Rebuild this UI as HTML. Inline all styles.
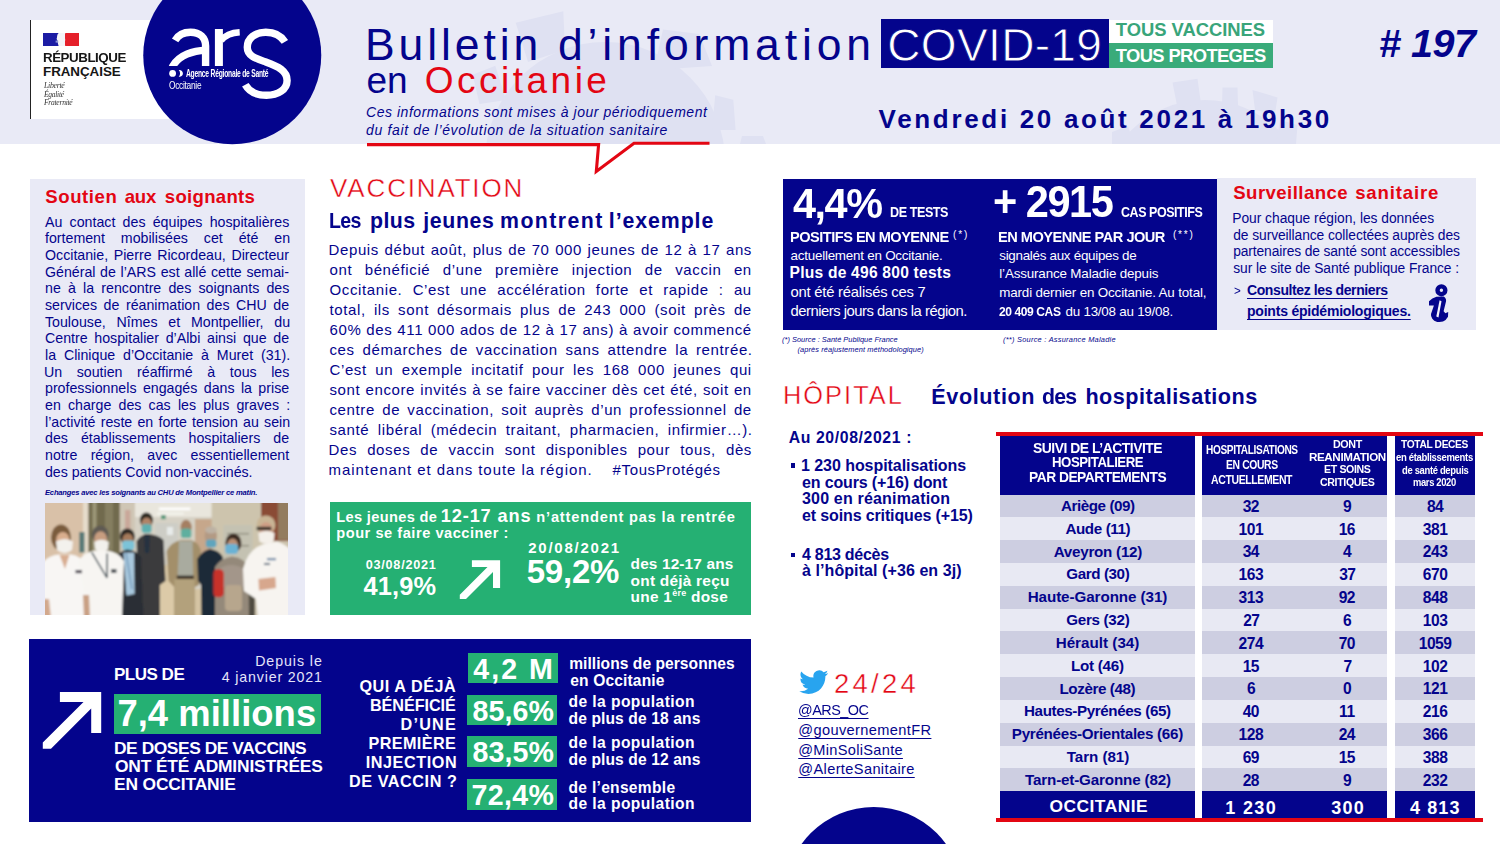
<!DOCTYPE html>
<html lang="fr"><head><meta charset="utf-8"><title>Bulletin d'information COVID-19 en Occitanie</title>
<style>
html,body{margin:0;padding:0}
body{width:1500px;height:844px;position:relative;overflow:hidden;background:#fff;font-family:"Liberation Sans",sans-serif;color:#04048c}
#s div,#s svg{position:absolute}
.t{position:absolute;line-height:1;white-space:pre;transform-origin:0 0}
</style></head><body>
<div id="s">
<div style="left:0.00px;top:0.00px;width:1500.00px;height:144.00px;background:#e9eaf6;"></div>
<svg style="left:0;top:0" width="1500" height="144" viewBox="0 0 1500 144"><g fill="#dfe1f2">
<circle cx="605" cy="162" r="120"/>
<path d="M515.7 22.7 L563.3 11.3 L565 50 L528 62 Z"/>
<path d="M663 29.5 L699.3 34 L712 66 L654 70 Z"/>
<path d="M472.7 74.8 L495.3 65.7 L506 100 L479.5 104 Z"/>
<path d="M715.2 95.2 L733.3 99.7 L735.6 130 L712 130 Z"/>
<path d="M742 136 L763 136 L766 144 L740 144 Z"/>
<circle cx="1205" cy="205" r="105"/>
<path d="M1172.5 82.5 L1197.5 78.7 L1201 104 L1177.5 108 Z"/>
<path d="M1222.5 87.5 L1237.5 87.5 L1238 106 L1222 106 Z"/>
<path d="M1252.5 90 L1277.5 97.5 L1275 114 L1255 110 Z"/>
<path d="M1280 120 L1297.5 125 L1296 144 L1276 144 Z"/>
<path d="M1112 132 L1128 126 L1134 144 L1112 144 Z"/>
</g></svg>
<div style="left:30.00px;top:19.90px;width:210.00px;height:99.40px;background:#fff;"></div>
<div style="left:30.00px;top:19.90px;width:1.00px;height:99.40px;background:#222;"></div>
<div style="left:43.00px;top:33.00px;width:15.60px;height:13.00px;background:#1c1ca4;"></div>
<div style="left:58.60px;top:33.00px;width:6.80px;height:13.00px;background:#f4f4f8;"></div>
<div style="left:65.40px;top:33.00px;width:13.40px;height:13.00px;background:#e5202a;"></div>
<svg style="left:55px;top:33px" width="12" height="13" viewBox="55 33 12 13"><path d="M58.6 33 C56.5 35 57.5 37 56.6 39 C58 40.5 57.5 43 58.6 46 L65.4 46 C63.5 43 66.5 40 64.5 37.5 C64.8 35.5 65 34 65.4 33 Z" fill="#f4f4f8"/><rect x="55.6" y="40.6" width="2.6" height="2" fill="#8f96d8"/></svg>
<svg style="left:140px;top:0" width="190" height="150" viewBox="140 0 190 150">
<defs><clipPath id="ca"><rect x="160" y="20" width="90" height="45.9"/></clipPath></defs>
<circle cx="232.25" cy="55.3" r="89" fill="#04048c"/>
<g fill="none" stroke="#fff" stroke-width="7.4" stroke-linecap="butt">
<g clip-path="url(#ca)">
<path d="M175.1 40.3 C179 33.8 185 32.2 190.5 32.2 C200 32.2 205.6 37.5 205.6 46 L205.6 70"/>
<path d="M206 50.2 C193 50.6 179 55 173 65.8 L171 70"/>
<path d="M218.9 29 L218.9 70" stroke-width="8"/>
<path d="M221 40.5 C225 35.5 232 32.6 239.7 32.2" stroke-width="6.6"/>
</g>
<path d="M284.9 41.9 C281 35.5 274 32.2 265.8 32.2 C255 32.2 247.3 38.5 247.3 47.2 C247.3 56 256 58.5 265.8 62 C278 66.3 287.1 71 287.1 80.4 C287.1 89.5 278 95.2 266.5 95.2 C256.5 95.2 249 91.5 245.3 84.8"/>
</g>
<circle cx="172.6" cy="73.4" r="3.4" fill="#fff"/><path d="M178.7 70.1 A3.4 3.4 0 1 1 178.7 76.7 A4.6 4.6 0 0 0 178.7 70.1Z" fill="#fff"/>
</svg>
<div style="left:881.20px;top:19.00px;width:227.80px;height:48.55px;background:#04048c;"></div>
<div style="left:1109.00px;top:19.50px;width:163.90px;height:23.50px;background:#fff;"></div>
<div style="left:1109.00px;top:42.90px;width:163.90px;height:24.70px;background:#3aab7a;"></div>
<div style="left:30.00px;top:179.00px;width:275.00px;height:436.20px;background:#e9eaf6;"></div>
<div style="left:330.00px;top:502.00px;width:421.00px;height:112.50px;background:#25b073;"></div>
<svg style="left:455px;top:555px" width="50" height="50" viewBox="455 555 50 50"><path d="M471.9 560.2 H500.1 V588 H493 V572 L466 599 H459.8 V594.8 L487.5 567.1 H471.9 Z" fill="#fff"/></svg>
<div style="left:29.25px;top:639.25px;width:721.75px;height:182.50px;background:#04048c;"></div>
<svg style="left:40px;top:688px" width="66" height="66" viewBox="40 688 66 66"><path d="M59.9 691.9 H101.2 V733 H91.2 V708.6 L51 748.8 H42.8 V742.6 L83.5 701.9 H59.9 Z" fill="#fff"/></svg>
<div style="left:114.25px;top:694.25px;width:206.50px;height:39.50px;background:#25b073;"></div>
<div style="left:467.80px;top:653.30px;width:89.80px;height:29.40px;background:#25b073;"></div>
<div style="left:466.90px;top:695.20px;width:90.00px;height:30.30px;background:#25b073;"></div>
<div style="left:466.90px;top:736.20px;width:90.00px;height:30.50px;background:#25b073;"></div>
<div style="left:466.90px;top:779.40px;width:90.00px;height:30.50px;background:#25b073;"></div>
<div style="left:783.00px;top:179.25px;width:433.75px;height:151.00px;background:#04048c;"></div>
<div style="left:1216.75px;top:178.25px;width:259.00px;height:152.00px;background:#e9eaf6;"></div>
<svg style="left:1424px;top:280px" width="30" height="46" viewBox="1424 280 30 46">
<circle cx="1441.4" cy="290.3" r="3.9" fill="none" stroke="#04048c" stroke-width="4.4"/>
<path d="M1429 301.3 Q1432 298 1436.5 296.8 L1443.7 296.5 Q1446.6 298.5 1446 301.5 L1443.6 311.3 L1445.4 313.3 L1448.2 312 L1448 316.7 Q1446 320.3 1443 321.6 Q1440 322.4 1437.2 321.9 Q1433.8 321 1432.3 318.7 Q1430.6 316.5 1431 314.1 L1433.9 305.6 L1429 305.6 Z" fill="#04048c"/>
<path d="M1439.6 300.2 L1441.5 301.2 L1438.5 317.6 L1436.3 316.6 Z" fill="#f2f2fb"/>
</svg>
<div style="left:790.50px;top:463.00px;width:4.50px;height:4.50px;background:#04048c;"></div>
<div style="left:790.50px;top:552.50px;width:4.50px;height:4.50px;background:#04048c;"></div>
<svg style="left:798.5px;top:669.6px" width="29.6" height="24.2" viewBox="0 2 24 20"><path fill="#28a4ef" d="M23.953 4.57a10 10 0 01-2.825.775 4.958 4.958 0 002.163-2.723c-.951.555-2.005.959-3.127 1.184a4.92 4.92 0 00-8.384 4.482C7.69 8.095 4.067 6.13 1.64 3.162a4.822 4.822 0 00-.666 2.475c0 1.71.87 3.213 2.188 4.096a4.904 4.904 0 01-2.228-.616v.06a4.923 4.923 0 003.946 4.827 4.996 4.996 0 01-2.212.085 4.936 4.936 0 004.604 3.417 9.867 9.867 0 01-6.102 2.105c-.39 0-.779-.023-1.17-.067a13.995 13.995 0 007.557 2.209c9.053 0 13.998-7.496 13.998-13.985 0-.21 0-.42-.015-.63A9.935 9.935 0 0024 4.59z"/></svg>
<svg style="left:780px;top:800px" width="190" height="44" viewBox="780 800 190 44"><circle cx="873.75" cy="896" r="89" fill="#04048c"/></svg>
<div style="left:996.25px;top:431.75px;width:486.25px;height:4.00px;background:#e30613;"></div>
<div style="left:996.25px;top:818.00px;width:486.25px;height:3.75px;background:#e30613;"></div>
<div style="left:1000.00px;top:435.75px;width:194.50px;height:58.75px;background:#04048c;"></div>
<div style="left:1000.00px;top:791.25px;width:194.50px;height:26.75px;background:#04048c;"></div>
<div style="left:1202.00px;top:435.75px;width:184.75px;height:58.75px;background:#04048c;"></div>
<div style="left:1202.00px;top:791.25px;width:184.75px;height:26.75px;background:#04048c;"></div>
<div style="left:1395.00px;top:435.75px;width:80.00px;height:58.75px;background:#04048c;"></div>
<div style="left:1395.00px;top:791.25px;width:80.00px;height:26.75px;background:#04048c;"></div>
<div style="left:1000.00px;top:494.50px;width:194.50px;height:22.88px;background:#cdcee1;"></div>
<div style="left:1202.00px;top:494.50px;width:184.75px;height:22.88px;background:#cdcee1;"></div>
<div style="left:1395.00px;top:494.50px;width:80.00px;height:22.88px;background:#cdcee1;"></div>
<div style="left:1000.00px;top:517.33px;width:194.50px;height:22.88px;background:#e8e9f3;"></div>
<div style="left:1202.00px;top:517.33px;width:184.75px;height:22.88px;background:#e8e9f3;"></div>
<div style="left:1395.00px;top:517.33px;width:80.00px;height:22.88px;background:#e8e9f3;"></div>
<div style="left:1000.00px;top:540.15px;width:194.50px;height:22.88px;background:#cdcee1;"></div>
<div style="left:1202.00px;top:540.15px;width:184.75px;height:22.88px;background:#cdcee1;"></div>
<div style="left:1395.00px;top:540.15px;width:80.00px;height:22.88px;background:#cdcee1;"></div>
<div style="left:1000.00px;top:562.98px;width:194.50px;height:22.88px;background:#e8e9f3;"></div>
<div style="left:1202.00px;top:562.98px;width:184.75px;height:22.88px;background:#e8e9f3;"></div>
<div style="left:1395.00px;top:562.98px;width:80.00px;height:22.88px;background:#e8e9f3;"></div>
<div style="left:1000.00px;top:585.81px;width:194.50px;height:22.88px;background:#cdcee1;"></div>
<div style="left:1202.00px;top:585.81px;width:184.75px;height:22.88px;background:#cdcee1;"></div>
<div style="left:1395.00px;top:585.81px;width:80.00px;height:22.88px;background:#cdcee1;"></div>
<div style="left:1000.00px;top:608.63px;width:194.50px;height:22.88px;background:#e8e9f3;"></div>
<div style="left:1202.00px;top:608.63px;width:184.75px;height:22.88px;background:#e8e9f3;"></div>
<div style="left:1395.00px;top:608.63px;width:80.00px;height:22.88px;background:#e8e9f3;"></div>
<div style="left:1000.00px;top:631.46px;width:194.50px;height:22.88px;background:#cdcee1;"></div>
<div style="left:1202.00px;top:631.46px;width:184.75px;height:22.88px;background:#cdcee1;"></div>
<div style="left:1395.00px;top:631.46px;width:80.00px;height:22.88px;background:#cdcee1;"></div>
<div style="left:1000.00px;top:654.29px;width:194.50px;height:22.88px;background:#e8e9f3;"></div>
<div style="left:1202.00px;top:654.29px;width:184.75px;height:22.88px;background:#e8e9f3;"></div>
<div style="left:1395.00px;top:654.29px;width:80.00px;height:22.88px;background:#e8e9f3;"></div>
<div style="left:1000.00px;top:677.12px;width:194.50px;height:22.88px;background:#cdcee1;"></div>
<div style="left:1202.00px;top:677.12px;width:184.75px;height:22.88px;background:#cdcee1;"></div>
<div style="left:1395.00px;top:677.12px;width:80.00px;height:22.88px;background:#cdcee1;"></div>
<div style="left:1000.00px;top:699.94px;width:194.50px;height:22.88px;background:#e8e9f3;"></div>
<div style="left:1202.00px;top:699.94px;width:184.75px;height:22.88px;background:#e8e9f3;"></div>
<div style="left:1395.00px;top:699.94px;width:80.00px;height:22.88px;background:#e8e9f3;"></div>
<div style="left:1000.00px;top:722.77px;width:194.50px;height:22.88px;background:#cdcee1;"></div>
<div style="left:1202.00px;top:722.77px;width:184.75px;height:22.88px;background:#cdcee1;"></div>
<div style="left:1395.00px;top:722.77px;width:80.00px;height:22.88px;background:#cdcee1;"></div>
<div style="left:1000.00px;top:745.60px;width:194.50px;height:22.88px;background:#e8e9f3;"></div>
<div style="left:1202.00px;top:745.60px;width:184.75px;height:22.88px;background:#e8e9f3;"></div>
<div style="left:1395.00px;top:745.60px;width:80.00px;height:22.88px;background:#e8e9f3;"></div>
<div style="left:1000.00px;top:768.42px;width:194.50px;height:22.88px;background:#cdcee1;"></div>
<div style="left:1202.00px;top:768.42px;width:184.75px;height:22.88px;background:#cdcee1;"></div>
<div style="left:1395.00px;top:768.42px;width:80.00px;height:22.88px;background:#cdcee1;"></div>
<svg style="left:45px;top:503px" width="243" height="112" viewBox="0 0 243 112">
<defs><filter id="bl" x="-5%" y="-5%" width="110%" height="110%"><feGaussianBlur stdDeviation="0.85"/></filter>
<clipPath id="cp"><rect width="243" height="112"/></clipPath></defs>
<g clip-path="url(#cp)"><g filter="url(#bl)">
<rect x="-3" y="-3" width="249" height="118" fill="#cdc4ae"/>
<rect x="-3" y="-3" width="47" height="118" fill="#d9c1a8"/>
<rect x="38" y="-3" width="6" height="60" fill="#e6dccb"/>
<rect x="43.4" y="-3" width="31.6" height="118" fill="#716a4d"/>
<rect x="47.5" y="-3" width="4" height="56" fill="#9d9778"/>
<rect x="60" y="-3" width="8" height="50" fill="#857e60"/>
<rect x="34.3" y="29" width="5.2" height="20.5" fill="#587876"/>
<rect x="74.8" y="-3" width="16" height="118" fill="#cfc6b5"/>
<rect x="80" y="7" width="5.4" height="20" fill="#c9a79a"/>
<rect x="90" y="-3" width="77" height="118" fill="#d6d1c5"/>
<rect x="90" y="-3" width="77" height="17" fill="#e9e6dd"/>
<rect x="113.9" y="4.6" width="31.5" height="2.6" fill="#ffffff"/><rect x="112.2" y="9.8" width="26.4" height="1.6" fill="#f8f8f2"/>
<rect x="116" y="12" width="4.8" height="4.2" fill="#5a9a7c"/>
<rect x="110" y="20" width="23" height="32" fill="#cdcdc6"/><rect x="122" y="24" width="6" height="8" fill="#e8ebea"/>
<rect x="150" y="16" width="17" height="50" fill="#c6a78b"/>
<rect x="166.6" y="-3" width="50" height="118" fill="#cdc4ad"/>
<rect x="178.5" y="22" width="29" height="45" fill="#c4c2b2"/><rect x="182" y="30" width="22" height="1.4" fill="#8f8d7e"/><rect x="182" y="42" width="22" height="1.4" fill="#8f8d7e"/>
<rect x="216" y="-3" width="30" height="41" fill="#8a4c34"/><rect x="233" y="-3" width="13" height="40" fill="#937c5e"/>
<rect x="112" y="62" width="22" height="53" fill="#dccaa8"/><rect x="148" y="86" width="10" height="29" fill="#d5c4a3"/>
<rect x="194" y="88" width="16" height="27" fill="#4f4c41"/>
<!-- P4 -->
<ellipse cx="101.4" cy="17" rx="6.6" ry="7.5" fill="#2f2922"/><ellipse cx="101.6" cy="21" rx="5.2" ry="6.5" fill="#b08468"/>
<rect x="96.6" y="21" width="10" height="9" rx="3" fill="#5fb0b0"/>
<path d="M91.5 38 Q96 31.5 102 31 Q113 31.5 118.5 37 L120.5 78 L114.8 82 L115 115 L97 115 L96.5 84 L92.5 72 Z" fill="#3a3b3d"/>
<path d="M99 31 L105 31 L104 50 L100 50 Z" fill="#27303f"/>
<!-- P5 -->
<ellipse cx="141.1" cy="24.5" rx="5.6" ry="7.8" fill="#a57f62"/>
<rect x="135.8" y="25.5" width="10.6" height="9.6" rx="3.2" fill="#5eaf9f"/>
<path d="M121.6 48 Q126 39 136 37 L146 37 Q153 39 155.8 47 L154 82 L149.8 84 L149.8 115 L129.2 115 L129.2 84 L123.5 78 Z" fill="#a38f6b"/>
<path d="M134 38 L147.6 38 L148.2 74 L132.6 74 Z" fill="#a9ab9f"/><rect x="131.8" y="72.6" width="17" height="3.4" fill="#3b3128"/>
<rect x="129.4" y="76.2" width="20.2" height="40" fill="#b3a17c"/>
<!-- P3 -->
<ellipse cx="82.4" cy="33.5" rx="7.4" ry="8" fill="#2a2622"/><ellipse cx="82.8" cy="37" rx="5.6" ry="6.8" fill="#a67a5c"/>
<rect x="77.2" y="37.4" width="12.2" height="9.6" rx="3.2" fill="#7cc3d8"/>
<path d="M69.7 56 Q74 48 82 46.5 Q92 47.5 96 54 L98.5 115 L75 115 L73 80 Z" fill="#2c2f36"/>
<path d="M78.4 49.5 L89 49.5 L89.6 91 L81.4 92.5 Z" fill="#a8c8de"/>
<path d="M81 50 L87 86" stroke="#5a84a8" stroke-width="1" fill="none"/>
<!-- P6 -->
<ellipse cx="165.8" cy="33" rx="6.2" ry="8.4" fill="#b39a84"/><ellipse cx="166" cy="27" rx="5.8" ry="3.4" fill="#bdb2a4"/>
<rect x="160.8" y="36.6" width="10.6" height="8" rx="3" fill="#5fa5bd"/>
<path d="M152.2 56 Q157 47.5 165 46 Q174 47 177.8 54 L177 80 L170 82 L170 115 L156.4 115 L156 82 L153 78 Z" fill="#1f2a38"/>
<!-- P7 -->
<ellipse cx="188.4" cy="40" rx="8" ry="9.6" fill="#3b2b22"/><ellipse cx="187.6" cy="42.4" rx="5.4" ry="6.8" fill="#b98f74"/>
<rect x="180.2" y="41" width="12.8" height="10" rx="3.4" fill="#6ab2d4"/>
<path d="M170 64 Q176 55 187 53.6 Q198 55 203.4 63 L204 115 L170 115 Z" fill="#94897a"/>
<path d="M174 66 Q186 58 199 66 L199 84 L174 84 Z" fill="#a3968a"/>
<rect x="180" y="82" width="17" height="26" rx="4" fill="#b7a68d"/>
<rect x="168.4" y="66.3" width="10.4" height="28" rx="4.4" fill="#c7302b"/>
<!-- P1 nurse -->
<ellipse cx="16" cy="34.5" rx="10" ry="13" fill="#7a5c3c"/><ellipse cx="17.8" cy="37" rx="6.6" ry="8" fill="#d9ae8e"/>
<path d="M11 38.5 Q19.5 33.5 28 38.5 L27 47 Q19.5 53 12 47 Z" fill="#f3f1ed"/>
<path d="M-3 60 Q4 52 14 51.5 L26 51.5 Q35 53 40.5 60 L40.5 115 L-3 115 Z" fill="#f8f6f4"/>
<path d="M14.6 52 L24.4 52 L20 66 Z" fill="#d8ad91"/>
<path d="M-3 96 L4 96 L6 115 L-3 115 Z" fill="#d2a88c"/>
<!-- P2 -->
<ellipse cx="55.2" cy="31.5" rx="8.4" ry="9" fill="#5e5a52"/><ellipse cx="55.6" cy="36" rx="6.4" ry="7.8" fill="#c79d80"/>
<path d="M49.3 39 Q56.5 34.5 63.8 39 L62.8 46.5 Q56.5 51.5 50.3 46.5 Z" fill="#f2f0ec"/>
<path d="M33.2 58 Q40 49 50 47.6 L62 47.6 Q73 49 79 58 L77 115 L41 115 L38.5 84 Z" fill="#f7f5f2"/>
<path d="M46.8 49.3 L62 74.8 M62.2 50.5 L62 74.8" stroke="#3d4a52" stroke-width="1.5" fill="none"/>
<rect x="66" y="66" width="5.5" height="4" fill="#50545a"/><rect x="30.5" y="67" width="6.5" height="3.2" fill="#4f4a55"/>
<path d="M38 92 L44 92 L45 115 L39 115 Z" fill="#c9a084"/>
<!-- P8 -->
<ellipse cx="221" cy="22" rx="9.4" ry="9.6" fill="#c9b595"/><ellipse cx="221" cy="27.5" rx="6.8" ry="8.6" fill="#cf9f86"/>
<rect x="211.7" y="23.8" width="14.6" height="3.4" fill="#35302c"/>
<path d="M213.4 30 Q221.5 26 229.6 30 L228.6 38.5 Q221.5 43 214.4 38.5 Z" fill="#f4f0ea"/>
<path d="M198 66 Q203 46 219 41 L232 38.5 Q240 41 246 47 L246 115 L213 115 L211 96 L199 88 Z" fill="#f7f4f0"/>
<path d="M213.4 76 L230.4 74 L231 85 L214 87.5 Z" fill="#d7a78d"/>
<rect x="222" y="55" width="9" height="2.2" fill="#6b87a8"/><rect x="219" y="60" width="6" height="2" fill="#5a6c80"/>
</g></g></svg>
</div>
<div class="t" id="t0" style="left:43.00px;top:50.61px;font-size:13.4px;font-weight:700;color:#161616;letter-spacing:-0.469px;transform:scaleX(0.9971);">RÉPUBLIQUE</div>
<div class="t" id="t1" style="left:43.00px;top:64.61px;font-size:13.4px;font-weight:700;color:#161616;letter-spacing:-0.049px;">FRANÇAISE</div>
<div class="t" id="t2" style="left:43.80px;top:81.39px;font-size:8.6px;font-style:italic;color:#333;font-family:'Liberation Serif',serif;letter-spacing:-0.301px;transform:scaleX(0.9045);">Liberté</div>
<div class="t" id="t3" style="left:44.27px;top:89.79px;font-size:8.6px;font-style:italic;color:#333;font-family:'Liberation Serif',serif;letter-spacing:-0.301px;transform:scaleX(0.8727);">Égalité</div>
<div class="t" id="t4" style="left:44.28px;top:98.29px;font-size:8.6px;font-style:italic;color:#333;font-family:'Liberation Serif',serif;letter-spacing:-0.301px;transform:scaleX(0.8792);">Fraternité</div>
<div class="t" id="t5" style="left:185.70px;top:67.89px;font-size:10.6px;font-weight:700;color:#fff;letter-spacing:-0.371px;transform:scaleX(0.6347);">Agence Régionale de Santé</div>
<div class="t" id="t6" style="left:168.90px;top:80.50px;font-size:10px;color:#fff;letter-spacing:-0.350px;transform:scaleX(0.8366);">Occitanie</div>
<div class="t" id="t7" style="left:365.00px;top:22.78px;font-size:44.5px;letter-spacing:3.914px;">Bulletin</div>
<div class="t" id="t8" style="left:558.00px;top:22.78px;font-size:44.5px;letter-spacing:4.851px;">d’information</div>
<div class="t" id="t9" style="left:887.30px;top:22.00px;font-size:46px;color:#fff;letter-spacing:0.344px;-webkit-text-stroke:0.8px #04048c;">COVID-19</div>
<div class="t" id="t10" style="left:1115.80px;top:20.96px;font-size:18.4px;font-weight:700;color:#39a57a;letter-spacing:-0.030px;">TOUS VACCINES</div>
<div class="t" id="t11" style="left:1115.80px;top:46.96px;font-size:18.4px;font-weight:700;color:#fff;letter-spacing:-0.641px;">TOUS PROTEGES</div>
<div class="t" id="t12" style="left:1379.00px;top:23.53px;font-size:39.5px;font-weight:700;font-style:italic;letter-spacing:-0.448px;"># 197</div>
<div class="t" id="t13" style="left:366.50px;top:62.05px;font-size:37px;letter-spacing:-0.079px;">en</div>
<div class="t" id="t14" style="left:424.75px;top:62.05px;font-size:37px;color:#e30613;letter-spacing:3.493px;">Occitanie</div>
<div class="t" id="t15" style="left:366.00px;top:104.85px;font-size:14px;font-style:italic;letter-spacing:0.536px;">Ces informations sont mises à jour périodiquement</div>
<div class="t" id="t16" style="left:366.00px;top:123.10px;font-size:14px;font-style:italic;letter-spacing:0.648px;">du fait de l’évolution de la situation sanitaire</div>
<div class="t" id="t17" style="left:878.60px;top:105.60px;font-size:26px;font-weight:700;letter-spacing:2.675px;">Vendredi 20 août 2021 à 19h30</div>
<div class="t" id="t18" style="left:45.25px;top:188.19px;font-size:18.6px;font-weight:700;color:#e30613;letter-spacing:0.570px;">Soutien</div>
<div class="t" id="t19" style="left:124.75px;top:188.19px;font-size:18.6px;font-weight:700;color:#e30613;letter-spacing:-0.228px;">aux</div>
<div class="t" id="t20" style="left:164.80px;top:188.19px;font-size:18.6px;font-weight:700;color:#e30613;letter-spacing:0.279px;">soignants</div>
<div class="t" id="t21" style="left:45.00px;top:214.60px;font-size:14.2px;width:244.34px;white-space:normal;text-align:justify;text-align-last:justify;">Au contact des équipes hospitalières</div>
<div class="t" id="t22" style="left:45.00px;top:231.27px;font-size:14.2px;width:245.14px;white-space:normal;text-align:justify;text-align-last:justify;">fortement mobilisées cet été en</div>
<div class="t" id="t23" style="left:45.00px;top:247.93px;font-size:14.2px;width:243.97px;white-space:normal;text-align:justify;text-align-last:justify;">Occitanie, Pierre Ricordeau, Directeur</div>
<div class="t" id="t24" style="left:45.00px;top:264.60px;font-size:14.2px;width:243.97px;white-space:normal;text-align:justify;text-align-last:justify;">Général de l’ARS est allé cette semai-</div>
<div class="t" id="t25" style="left:45.00px;top:281.27px;font-size:14.2px;width:244.34px;white-space:normal;text-align:justify;text-align-last:justify;">ne à la rencontre des soignants des</div>
<div class="t" id="t26" style="left:45.00px;top:297.94px;font-size:14.2px;width:244.14px;white-space:normal;text-align:justify;text-align-last:justify;">services de réanimation des CHU de</div>
<div class="t" id="t27" style="left:45.00px;top:314.60px;font-size:14.2px;width:245.14px;white-space:normal;text-align:justify;text-align-last:justify;">Toulouse, Nîmes et Montpellier, du</div>
<div class="t" id="t28" style="left:45.00px;top:331.27px;font-size:14.2px;width:244.14px;white-space:normal;text-align:justify;text-align-last:justify;">Centre hospitalier d’Albi ainsi que de</div>
<div class="t" id="t29" style="left:45.00px;top:347.94px;font-size:14.2px;width:245.19px;white-space:normal;text-align:justify;text-align-last:justify;">la Clinique d’Occitanie à Muret (31).</div>
<div class="t" id="t30" style="left:44.00px;top:364.60px;font-size:14.2px;width:245.34px;white-space:normal;text-align:justify;text-align-last:justify;">Un soutien réaffirmé à tous les</div>
<div class="t" id="t31" style="left:45.00px;top:381.27px;font-size:14.2px;width:244.14px;white-space:normal;text-align:justify;text-align-last:justify;">professionnels engagés dans la prise</div>
<div class="t" id="t32" style="left:45.00px;top:397.94px;font-size:14.2px;width:245.19px;white-space:normal;text-align:justify;text-align-last:justify;">en charge des cas les plus graves :</div>
<div class="t" id="t33" style="left:45.00px;top:414.60px;font-size:14.2px;width:245.14px;white-space:normal;text-align:justify;text-align-last:justify;">l’activité reste en forte tension au sein</div>
<div class="t" id="t34" style="left:45.00px;top:431.27px;font-size:14.2px;width:244.14px;white-space:normal;text-align:justify;text-align-last:justify;">des établissements hospitaliers de</div>
<div class="t" id="t35" style="left:45.00px;top:447.94px;font-size:14.2px;width:244.19px;white-space:normal;text-align:justify;text-align-last:justify;">notre région, avec essentiellement</div>
<div class="t" id="t36" style="left:45.00px;top:464.61px;font-size:14.2px;letter-spacing:-0.021px;">des patients Covid non-vaccinés.</div>
<div class="t" id="t37" style="left:45.00px;top:488.74px;font-size:7.6px;font-weight:700;font-style:italic;letter-spacing:-0.194px;">Echanges avec les soignants au CHU de Montpellier ce matin.</div>
<div class="t" id="t38" style="left:330.10px;top:174.80px;font-size:26px;color:#e30613;letter-spacing:1.835px;-webkit-text-stroke:0.4px #fff;">VACCINATION</div>
<div class="t" id="t39" style="left:329.38px;top:210.59px;font-size:21.3px;font-weight:700;letter-spacing:-0.746px;transform:scaleX(0.9200);">Les</div>
<div class="t" id="t40" style="left:369.90px;top:210.59px;font-size:21.3px;font-weight:700;letter-spacing:0.488px;">plus</div>
<div class="t" id="t41" style="left:423.30px;top:210.59px;font-size:21.3px;font-weight:700;letter-spacing:0.615px;">jeunes</div>
<div class="t" id="t42" style="left:500.00px;top:210.59px;font-size:21.3px;font-weight:700;letter-spacing:1.444px;">montrent</div>
<div class="t" id="t43" style="left:608.80px;top:210.59px;font-size:21.3px;font-weight:700;letter-spacing:0.921px;">l’exemple</div>
<div class="t" id="t44" style="left:328.50px;top:242.25px;font-size:15px;letter-spacing:0.620px;width:423.50px;white-space:normal;text-align:justify;text-align-last:justify;">Depuis début août, plus de 70 000 jeunes de 12 à 17 ans</div>
<div class="t" id="t45" style="left:329.50px;top:262.25px;font-size:15px;letter-spacing:0.620px;width:422.34px;white-space:normal;text-align:justify;text-align-last:justify;">ont bénéficié d’une première injection de vaccin en</div>
<div class="t" id="t46" style="left:329.50px;top:282.25px;font-size:15px;letter-spacing:0.620px;width:422.34px;white-space:normal;text-align:justify;text-align-last:justify;">Occitanie. C’est une accélération forte et rapide : au</div>
<div class="t" id="t47" style="left:329.50px;top:302.25px;font-size:15px;letter-spacing:0.620px;width:422.34px;white-space:normal;text-align:justify;text-align-last:justify;">total, ils sont désormais plus de 243 000 (soit près de</div>
<div class="t" id="t48" style="left:329.50px;top:322.25px;font-size:15px;letter-spacing:0.620px;width:422.34px;white-space:normal;text-align:justify;text-align-last:justify;">60% des 411 000 ados de 12 à 17 ans) à avoir commencé</div>
<div class="t" id="t49" style="left:329.50px;top:342.25px;font-size:15px;letter-spacing:0.620px;width:423.17px;white-space:normal;text-align:justify;text-align-last:justify;">ces démarches de vaccination sans attendre la rentrée.</div>
<div class="t" id="t50" style="left:329.50px;top:362.25px;font-size:15px;letter-spacing:0.620px;width:422.33px;white-space:normal;text-align:justify;text-align-last:justify;">C’est un exemple incitatif pour les 168 000 jeunes qui</div>
<div class="t" id="t51" style="left:329.50px;top:382.25px;font-size:15px;letter-spacing:0.620px;width:422.34px;white-space:normal;text-align:justify;text-align-last:justify;">sont encore invités à se faire vacciner dès cet été, soit en</div>
<div class="t" id="t52" style="left:329.50px;top:402.25px;font-size:15px;letter-spacing:0.620px;width:422.34px;white-space:normal;text-align:justify;text-align-last:justify;">centre de vaccination, soit auprès d’un professionnel de</div>
<div class="t" id="t53" style="left:329.50px;top:422.25px;font-size:15px;letter-spacing:0.620px;width:423.17px;white-space:normal;text-align:justify;text-align-last:justify;">santé libéral (médecin traitant, pharmacien, infirmier…).</div>
<div class="t" id="t54" style="left:328.50px;top:442.25px;font-size:15px;letter-spacing:0.620px;width:423.50px;white-space:normal;text-align:justify;text-align-last:justify;">Des doses de vaccin sont disponibles pour tous, dès</div>
<div class="t" id="t55" style="left:328.50px;top:462.25px;font-size:15px;letter-spacing:0.946px;">maintenant et dans toute la région.</div>
<div class="t" id="t56" style="left:612.60px;top:462.25px;font-size:15px;letter-spacing:0.618px;">#TousProtégés</div>
<div class="t" id="t57" style="left:336.25px;top:510.09px;font-size:14.6px;font-weight:700;color:#fff;letter-spacing:0.340px;">Les jeunes de</div>
<div class="t" id="t58" style="left:440.75px;top:507.03px;font-size:18.2px;font-weight:700;color:#fff;letter-spacing:0.868px;">12-17 ans</div>
<div class="t" id="t59" style="left:536.25px;top:510.09px;font-size:14.6px;font-weight:700;color:#fff;letter-spacing:0.840px;">n’attendent pas la rentrée</div>
<div class="t" id="t60" style="left:336.25px;top:526.34px;font-size:14.6px;font-weight:700;color:#fff;letter-spacing:0.535px;">pour se faire vacciner :</div>
<div class="t" id="t61" style="left:365.75px;top:559.21px;font-size:12.7px;font-weight:700;color:#fff;letter-spacing:0.728px;">03/08/2021</div>
<div class="t" id="t62" style="left:363.40px;top:574.01px;font-size:25.4px;font-weight:700;color:#fff;letter-spacing:0.194px;">41,9%</div>
<div class="t" id="t63" style="left:528.25px;top:539.85px;font-size:15px;font-weight:700;color:#fff;letter-spacing:1.752px;">20/08/2021</div>
<div class="t" id="t64" style="left:526.70px;top:555.25px;font-size:33px;font-weight:700;color:#fff;letter-spacing:-0.209px;">59,2%</div>
<div class="t" id="t65" style="left:630.60px;top:556.41px;font-size:15.4px;font-weight:700;color:#fff;letter-spacing:0.141px;">des 12-17 ans</div>
<div class="t" id="t66" style="left:630.60px;top:572.66px;font-size:15.4px;font-weight:700;color:#fff;letter-spacing:0.250px;">ont déjà reçu</div>
<div class="t" id="t67" style="left:630.60px;top:588.66px;font-size:15.4px;font-weight:700;color:#fff;letter-spacing:0.270px;">une 1<span style="font-size:9px;position:relative;top:-5.5px">ère</span> dose</div>
<div class="t" id="t68" style="left:114.00px;top:666.35px;font-size:17px;font-weight:700;color:#fff;letter-spacing:-0.491px;">PLUS DE</div>
<div class="t" id="t69" style="left:255.15px;top:653.53px;font-size:14.2px;color:#e4e4fa;letter-spacing:0.936px;">Depuis le</div>
<div class="t" id="t70" style="left:221.80px;top:670.43px;font-size:14.2px;color:#e4e4fa;letter-spacing:0.835px;">4 janvier 2021</div>
<div class="t" id="t71" style="left:117.40px;top:695.86px;font-size:36.4px;font-weight:700;color:#fff;letter-spacing:0.049px;">7,4 millions</div>
<div class="t" id="t72" style="left:114.00px;top:739.81px;font-size:17.4px;font-weight:700;color:#fff;letter-spacing:-0.448px;">DE DOSES DE VACCINS</div>
<div class="t" id="t73" style="left:115.00px;top:757.91px;font-size:17.4px;font-weight:700;color:#fff;letter-spacing:-0.162px;">ONT ÉTÉ ADMINISTRÉES</div>
<div class="t" id="t74" style="left:114.00px;top:776.21px;font-size:17.4px;font-weight:700;color:#fff;letter-spacing:-0.142px;">EN OCCITANIE</div>
<div class="t" id="t75" style="left:359.50px;top:678.43px;font-size:16.2px;font-weight:700;color:#fff;letter-spacing:0.526px;">QUI A DÉJÀ</div>
<div class="t" id="t76" style="left:370.00px;top:697.23px;font-size:16.2px;font-weight:700;color:#fff;letter-spacing:-0.070px;">BÉNÉFICIÉ</div>
<div class="t" id="t77" style="left:400.60px;top:716.43px;font-size:16.2px;font-weight:700;color:#fff;letter-spacing:1.205px;">D’UNE</div>
<div class="t" id="t78" style="left:368.50px;top:735.43px;font-size:16.2px;font-weight:700;color:#fff;letter-spacing:0.391px;">PREMIÈRE</div>
<div class="t" id="t79" style="left:365.70px;top:754.03px;font-size:16.2px;font-weight:700;color:#fff;letter-spacing:0.579px;">INJECTION</div>
<div class="t" id="t80" style="left:349.00px;top:772.83px;font-size:16.2px;font-weight:700;color:#fff;letter-spacing:0.565px;">DE VACCIN ?</div>
<div class="t" id="t81" style="left:473.20px;top:654.89px;font-size:28.6px;font-weight:700;color:#fff;letter-spacing:2.051px;">4,2 M</div>
<div class="t" id="t82" style="left:472.50px;top:696.79px;font-size:28.6px;font-weight:700;color:#fff;letter-spacing:0.087px;">85,6%</div>
<div class="t" id="t83" style="left:472.50px;top:737.89px;font-size:28.6px;font-weight:700;color:#fff;letter-spacing:0.087px;">83,5%</div>
<div class="t" id="t84" style="left:471.50px;top:780.79px;font-size:28.6px;font-weight:700;color:#fff;letter-spacing:0.337px;">72,4%</div>
<div class="t" id="t85" style="left:569.20px;top:656.44px;font-size:15.6px;font-weight:700;color:#fff;letter-spacing:0.042px;">millions de personnes</div>
<div class="t" id="t86" style="left:570.20px;top:673.34px;font-size:15.6px;font-weight:700;color:#fff;letter-spacing:0.140px;">en Occitanie</div>
<div class="t" id="t87" style="left:568.50px;top:694.24px;font-size:15.6px;font-weight:700;color:#fff;letter-spacing:0.431px;">de la population</div>
<div class="t" id="t88" style="left:568.50px;top:711.44px;font-size:15.6px;font-weight:700;color:#fff;letter-spacing:0.117px;">de plus de 18 ans</div>
<div class="t" id="t89" style="left:568.50px;top:735.24px;font-size:15.6px;font-weight:700;color:#fff;letter-spacing:0.431px;">de la population</div>
<div class="t" id="t90" style="left:568.50px;top:752.24px;font-size:15.6px;font-weight:700;color:#fff;letter-spacing:0.117px;">de plus de 12 ans</div>
<div class="t" id="t91" style="left:568.50px;top:779.74px;font-size:15.6px;font-weight:700;color:#fff;letter-spacing:0.286px;">de l’ensemble</div>
<div class="t" id="t92" style="left:568.50px;top:796.04px;font-size:15.6px;font-weight:700;color:#fff;letter-spacing:0.431px;">de la population</div>
<div class="t" id="t93" style="left:792.50px;top:181.75px;font-size:43px;font-weight:700;color:#fff;letter-spacing:-1.505px;transform:scaleX(0.9618);">4,4%</div>
<div class="t" id="t94" style="left:889.50px;top:205.09px;font-size:14.6px;font-weight:700;color:#fff;letter-spacing:-0.511px;transform:scaleX(0.8634);">DE TESTS</div>
<div class="t" id="t95" style="left:789.54px;top:228.83px;font-size:15.2px;font-weight:700;color:#fff;letter-spacing:-0.532px;transform:scaleX(0.9601);">POSITIFS EN MOYENNE</div>
<div class="t" id="t96" style="left:953.00px;top:229.70px;font-size:10px;color:#fff;letter-spacing:1.884px;">(*)</div>
<div class="t" id="t97" style="left:790.50px;top:249.11px;font-size:13.4px;color:#fff;letter-spacing:-0.224px;">actuellement en Occitanie.</div>
<div class="t" id="t98" style="left:789.50px;top:264.99px;font-size:15.6px;font-weight:700;color:#fff;letter-spacing:0.226px;">Plus de 496 800 tests</div>
<div class="t" id="t99" style="left:790.50px;top:284.92px;font-size:14.8px;color:#fff;letter-spacing:-0.219px;">ont été réalisés ces 7</div>
<div class="t" id="t100" style="left:790.50px;top:303.67px;font-size:14.8px;color:#fff;letter-spacing:-0.482px;">derniers jours dans la région.</div>
<div class="t" id="t101" style="left:993.05px;top:181.12px;font-size:43.5px;font-weight:700;color:#fff;letter-spacing:-1.523px;transform:scaleX(0.9537);">+ 2915</div>
<div class="t" id="t102" style="left:1121.25px;top:205.09px;font-size:14.6px;font-weight:700;color:#fff;letter-spacing:-0.511px;transform:scaleX(0.8541);">CAS POSITIFS</div>
<div class="t" id="t103" style="left:998.29px;top:228.83px;font-size:15.2px;font-weight:700;color:#fff;letter-spacing:-0.532px;transform:scaleX(0.9616);">EN MOYENNE PAR JOUR</div>
<div class="t" id="t104" style="left:1173.00px;top:229.70px;font-size:10px;color:#fff;letter-spacing:1.792px;">(**)</div>
<div class="t" id="t105" style="left:999.25px;top:249.11px;font-size:13.4px;color:#fff;letter-spacing:-0.284px;">signalés aux équipes de</div>
<div class="t" id="t106" style="left:999.25px;top:267.36px;font-size:13.4px;color:#fff;letter-spacing:-0.153px;">l’Assurance Maladie depuis</div>
<div class="t" id="t107" style="left:999.25px;top:286.11px;font-size:13.4px;color:#fff;letter-spacing:-0.157px;">mardi dernier en Occitanie. Au total,</div>
<div class="t" id="t108" style="left:999.25px;top:304.86px;font-size:13.4px;font-weight:700;color:#fff;letter-spacing:-0.469px;transform:scaleX(0.9012);">20 409 CAS</div>
<div class="t" id="t109" style="left:1065.50px;top:304.86px;font-size:13.4px;color:#fff;letter-spacing:-0.234px;">du 13/08 au 19/08.</div>
<div class="t" id="t110" style="left:782.00px;top:335.71px;font-size:7.4px;font-style:italic;letter-spacing:0.030px;">(*) Source : Santé Publique France</div>
<div class="t" id="t111" style="left:797.50px;top:346.21px;font-size:7.4px;font-style:italic;letter-spacing:0.099px;">(après réajustement méthodologique)</div>
<div class="t" id="t112" style="left:1003.00px;top:335.71px;font-size:7.4px;font-style:italic;letter-spacing:0.257px;">(**) Source : Assurance Maladie</div>
<div class="t" id="t113" style="left:1233.25px;top:183.79px;font-size:18.6px;font-weight:700;color:#e30613;letter-spacing:0.434px;">Surveillance</div>
<div class="t" id="t114" style="left:1355.20px;top:183.79px;font-size:18.6px;font-weight:700;color:#e30613;letter-spacing:0.832px;">sanitaire</div>
<div class="t" id="t115" style="left:1232.25px;top:212.02px;font-size:13.8px;letter-spacing:-0.021px;">Pour chaque région, les données</div>
<div class="t" id="t116" style="left:1233.25px;top:228.67px;font-size:13.8px;letter-spacing:-0.074px;">de surveillance collectées auprès des</div>
<div class="t" id="t117" style="left:1233.25px;top:245.37px;font-size:13.8px;letter-spacing:-0.117px;">partenaires de santé sont accessibles</div>
<div class="t" id="t118" style="left:1233.25px;top:262.02px;font-size:13.8px;letter-spacing:-0.074px;">sur le site de Santé publique France :</div>
<div class="t" id="t119" style="left:1234.25px;top:283.52px;font-size:13.5px;letter-spacing:-0.473px;transform:scaleX(0.8627);">&gt;</div>
<div class="t" id="t120" style="left:1247.00px;top:283.10px;font-size:14px;font-weight:700;letter-spacing:-0.398px;text-decoration:underline;text-decoration-thickness:1.2px;text-underline-offset:2.6px;">Consultez les derniers</div>
<div class="t" id="t121" style="left:1247.00px;top:303.60px;font-size:14px;font-weight:700;letter-spacing:-0.213px;text-decoration:underline;text-decoration-thickness:1.2px;text-underline-offset:2.6px;">points épidémiologiques.</div>
<div class="t" id="t122" style="left:782.90px;top:383.01px;font-size:25.4px;color:#e30613;letter-spacing:2.043px;-webkit-text-stroke:0.4px #fff;">HÔPITAL</div>
<div class="t" id="t123" style="left:931.30px;top:386.24px;font-size:21.6px;font-weight:700;letter-spacing:0.602px;">Évolution</div>
<div class="t" id="t124" style="left:1041.70px;top:386.24px;font-size:21.6px;font-weight:700;letter-spacing:-0.756px;transform:scaleX(0.9861);">des</div>
<div class="t" id="t125" style="left:1085.40px;top:386.24px;font-size:21.6px;font-weight:700;letter-spacing:0.495px;">hospitalisations</div>
<div class="t" id="t126" style="left:788.70px;top:430.37px;font-size:15.8px;font-weight:700;letter-spacing:0.613px;">Au 20/08/2021 :</div>
<div class="t" id="t127" style="left:801.00px;top:458.15px;font-size:16px;font-weight:700;letter-spacing:-0.054px;">1 230 hospitalisations</div>
<div class="t" id="t128" style="left:802.00px;top:474.50px;font-size:16px;font-weight:700;letter-spacing:-0.150px;">en cours (+16) dont</div>
<div class="t" id="t129" style="left:802.00px;top:491.00px;font-size:16px;font-weight:700;letter-spacing:0.181px;">300 en réanimation</div>
<div class="t" id="t130" style="left:802.00px;top:507.65px;font-size:16px;font-weight:700;letter-spacing:-0.131px;">et soins critiques (+15)</div>
<div class="t" id="t131" style="left:802.00px;top:547.15px;font-size:16px;font-weight:700;letter-spacing:-0.271px;">4 813 décès</div>
<div class="t" id="t132" style="left:802.00px;top:563.15px;font-size:16px;font-weight:700;letter-spacing:0.080px;">à l’hôpital (+36 en 3j)</div>
<div class="t" id="t133" style="left:834.00px;top:670.02px;font-size:27.5px;color:#e30613;letter-spacing:3.242px;-webkit-text-stroke:0.4px #fff;">24/24</div>
<div class="t" id="t134" style="left:798.26px;top:702.59px;font-size:14.6px;letter-spacing:-0.511px;transform:scaleX(0.9895);text-decoration:underline;text-decoration-thickness:1.2px;text-underline-offset:2.6px;">@ARS_OC</div>
<div class="t" id="t135" style="left:798.25px;top:722.59px;font-size:14.6px;letter-spacing:0.372px;text-decoration:underline;text-decoration-thickness:1.2px;text-underline-offset:2.6px;">@gouvernementFR</div>
<div class="t" id="t136" style="left:798.25px;top:742.59px;font-size:14.6px;letter-spacing:0.296px;text-decoration:underline;text-decoration-thickness:1.2px;text-underline-offset:2.6px;">@MinSoliSante</div>
<div class="t" id="t137" style="left:798.25px;top:762.34px;font-size:14.6px;letter-spacing:0.371px;text-decoration:underline;text-decoration-thickness:1.2px;text-underline-offset:2.6px;">@AlerteSanitaire</div>
<div class="t" id="t138" style="left:1061.00px;top:497.88px;font-size:15.2px;font-weight:700;letter-spacing:-0.444px;">Ariège (09)</div>
<div class="t" id="t139" style="left:1242.63px;top:498.84px;font-size:15.6px;font-weight:700;letter-spacing:-0.450px;">32</div>
<div class="t" id="t140" style="left:1342.97px;top:498.84px;font-size:15.6px;font-weight:700;letter-spacing:-0.450px;">9</div>
<div class="t" id="t141" style="left:1426.88px;top:498.84px;font-size:15.6px;font-weight:700;letter-spacing:-0.450px;">84</div>
<div class="t" id="t142" style="left:1065.40px;top:520.71px;font-size:15.2px;font-weight:700;letter-spacing:-0.388px;">Aude (11)</div>
<div class="t" id="t143" style="left:1238.52px;top:521.67px;font-size:15.6px;font-weight:700;letter-spacing:-0.450px;">101</div>
<div class="t" id="t144" style="left:1338.63px;top:521.67px;font-size:15.6px;font-weight:700;letter-spacing:-0.450px;">16</div>
<div class="t" id="t145" style="left:1422.77px;top:521.67px;font-size:15.6px;font-weight:700;letter-spacing:-0.450px;">381</div>
<div class="t" id="t146" style="left:1053.70px;top:543.53px;font-size:15.2px;font-weight:700;letter-spacing:-0.253px;">Aveyron (12)</div>
<div class="t" id="t147" style="left:1242.63px;top:544.49px;font-size:15.6px;font-weight:700;letter-spacing:-0.450px;">34</div>
<div class="t" id="t148" style="left:1342.97px;top:544.49px;font-size:15.6px;font-weight:700;letter-spacing:-0.450px;">4</div>
<div class="t" id="t149" style="left:1422.77px;top:544.49px;font-size:15.6px;font-weight:700;letter-spacing:-0.450px;">243</div>
<div class="t" id="t150" style="left:1066.35px;top:566.36px;font-size:15.2px;font-weight:700;letter-spacing:-0.416px;">Gard (30)</div>
<div class="t" id="t151" style="left:1238.52px;top:567.32px;font-size:15.6px;font-weight:700;letter-spacing:-0.450px;">163</div>
<div class="t" id="t152" style="left:1339.13px;top:567.32px;font-size:15.6px;font-weight:700;letter-spacing:-0.450px;">37</div>
<div class="t" id="t153" style="left:1422.77px;top:567.32px;font-size:15.6px;font-weight:700;letter-spacing:-0.450px;">670</div>
<div class="t" id="t154" style="left:1027.65px;top:589.19px;font-size:15.2px;font-weight:700;letter-spacing:-0.069px;">Haute-Garonne (31)</div>
<div class="t" id="t155" style="left:1238.52px;top:590.15px;font-size:15.6px;font-weight:700;letter-spacing:-0.450px;">313</div>
<div class="t" id="t156" style="left:1338.63px;top:590.15px;font-size:15.6px;font-weight:700;letter-spacing:-0.450px;">92</div>
<div class="t" id="t157" style="left:1422.77px;top:590.15px;font-size:15.6px;font-weight:700;letter-spacing:-0.450px;">848</div>
<div class="t" id="t158" style="left:1066.35px;top:612.01px;font-size:15.2px;font-weight:700;letter-spacing:-0.313px;">Gers (32)</div>
<div class="t" id="t159" style="left:1243.13px;top:612.98px;font-size:15.6px;font-weight:700;letter-spacing:-0.450px;">27</div>
<div class="t" id="t160" style="left:1342.97px;top:612.98px;font-size:15.6px;font-weight:700;letter-spacing:-0.450px;">6</div>
<div class="t" id="t161" style="left:1422.77px;top:612.98px;font-size:15.6px;font-weight:700;letter-spacing:-0.450px;">103</div>
<div class="t" id="t162" style="left:1055.65px;top:634.84px;font-size:15.2px;font-weight:700;letter-spacing:0.018px;">Hérault (34)</div>
<div class="t" id="t163" style="left:1238.52px;top:635.80px;font-size:15.6px;font-weight:700;letter-spacing:-0.450px;">274</div>
<div class="t" id="t164" style="left:1338.63px;top:635.80px;font-size:15.6px;font-weight:700;letter-spacing:-0.450px;">70</div>
<div class="t" id="t165" style="left:1418.66px;top:635.80px;font-size:15.6px;font-weight:700;letter-spacing:-0.450px;">1059</div>
<div class="t" id="t166" style="left:1071.00px;top:657.67px;font-size:15.2px;font-weight:700;letter-spacing:-0.255px;">Lot (46)</div>
<div class="t" id="t167" style="left:1242.63px;top:658.63px;font-size:15.6px;font-weight:700;letter-spacing:-0.450px;">15</div>
<div class="t" id="t168" style="left:1343.47px;top:658.63px;font-size:15.6px;font-weight:700;letter-spacing:-0.450px;">7</div>
<div class="t" id="t169" style="left:1422.77px;top:658.63px;font-size:15.6px;font-weight:700;letter-spacing:-0.450px;">102</div>
<div class="t" id="t170" style="left:1059.50px;top:680.50px;font-size:15.2px;font-weight:700;letter-spacing:-0.413px;">Lozère (48)</div>
<div class="t" id="t171" style="left:1246.97px;top:681.46px;font-size:15.6px;font-weight:700;letter-spacing:-0.450px;">6</div>
<div class="t" id="t172" style="left:1342.97px;top:681.46px;font-size:15.6px;font-weight:700;letter-spacing:-0.450px;">0</div>
<div class="t" id="t173" style="left:1422.77px;top:681.46px;font-size:15.6px;font-weight:700;letter-spacing:-0.450px;">121</div>
<div class="t" id="t174" style="left:1024.00px;top:703.32px;font-size:15.2px;font-weight:700;letter-spacing:-0.391px;">Hautes-Pyrénées (65)</div>
<div class="t" id="t175" style="left:1242.63px;top:704.28px;font-size:15.6px;font-weight:700;letter-spacing:-0.450px;">40</div>
<div class="t" id="t176" style="left:1339.07px;top:704.28px;font-size:15.6px;font-weight:700;letter-spacing:-0.450px;">11</div>
<div class="t" id="t177" style="left:1422.77px;top:704.28px;font-size:15.6px;font-weight:700;letter-spacing:-0.450px;">216</div>
<div class="t" id="t178" style="left:1011.85px;top:726.15px;font-size:15.2px;font-weight:700;letter-spacing:-0.294px;">Pyrénées-Orientales (66)</div>
<div class="t" id="t179" style="left:1238.52px;top:727.11px;font-size:15.6px;font-weight:700;letter-spacing:-0.450px;">128</div>
<div class="t" id="t180" style="left:1338.63px;top:727.11px;font-size:15.6px;font-weight:700;letter-spacing:-0.450px;">24</div>
<div class="t" id="t181" style="left:1422.77px;top:727.11px;font-size:15.6px;font-weight:700;letter-spacing:-0.450px;">366</div>
<div class="t" id="t182" style="left:1066.75px;top:748.98px;font-size:15.2px;font-weight:700;letter-spacing:-0.057px;">Tarn (81)</div>
<div class="t" id="t183" style="left:1242.63px;top:749.94px;font-size:15.6px;font-weight:700;letter-spacing:-0.450px;">69</div>
<div class="t" id="t184" style="left:1338.63px;top:749.94px;font-size:15.6px;font-weight:700;letter-spacing:-0.450px;">15</div>
<div class="t" id="t185" style="left:1422.77px;top:749.94px;font-size:15.6px;font-weight:700;letter-spacing:-0.450px;">388</div>
<div class="t" id="t186" style="left:1025.00px;top:771.80px;font-size:15.2px;font-weight:700;letter-spacing:-0.160px;">Tarn-et-Garonne (82)</div>
<div class="t" id="t187" style="left:1242.63px;top:772.76px;font-size:15.6px;font-weight:700;letter-spacing:-0.450px;">28</div>
<div class="t" id="t188" style="left:1342.97px;top:772.76px;font-size:15.6px;font-weight:700;letter-spacing:-0.450px;">9</div>
<div class="t" id="t189" style="left:1422.77px;top:772.76px;font-size:15.6px;font-weight:700;letter-spacing:-0.450px;">232</div>
<div class="t" id="t190" style="left:1032.50px;top:441.01px;font-size:14.4px;font-weight:700;color:#fff;letter-spacing:-0.504px;transform:scaleX(0.9668);">SUIVI DE L’ACTIVITE</div>
<div class="t" id="t191" style="left:1051.50px;top:455.26px;font-size:14.4px;font-weight:700;color:#fff;letter-spacing:-0.504px;transform:scaleX(0.9187);">HOSPITALIERE</div>
<div class="t" id="t192" style="left:1028.50px;top:470.26px;font-size:14.4px;font-weight:700;color:#fff;letter-spacing:-0.504px;transform:scaleX(0.9569);">PAR DEPARTEMENTS</div>
<div class="t" id="t193" style="left:1205.50px;top:443.88px;font-size:12.2px;font-weight:700;color:#fff;letter-spacing:-0.427px;transform:scaleX(0.8300);">HOSPITALISATIONS</div>
<div class="t" id="t194" style="left:1225.50px;top:458.88px;font-size:12.2px;font-weight:700;color:#fff;letter-spacing:-0.427px;transform:scaleX(0.8493);">EN COURS</div>
<div class="t" id="t195" style="left:1210.50px;top:473.88px;font-size:12.2px;font-weight:700;color:#fff;letter-spacing:-0.427px;transform:scaleX(0.8596);">ACTUELLEMENT</div>
<div class="t" id="t196" style="left:1332.50px;top:438.72px;font-size:11.8px;font-weight:700;color:#fff;letter-spacing:-0.413px;transform:scaleX(0.9097);">DONT</div>
<div class="t" id="t197" style="left:1309.42px;top:451.72px;font-size:11.8px;font-weight:700;color:#fff;letter-spacing:-0.413px;transform:scaleX(0.9876);">REANIMATION</div>
<div class="t" id="t198" style="left:1324.00px;top:464.47px;font-size:11.8px;font-weight:700;color:#fff;letter-spacing:-0.413px;transform:scaleX(0.8986);">ET SOINS</div>
<div class="t" id="t199" style="left:1320.00px;top:476.97px;font-size:11.8px;font-weight:700;color:#fff;letter-spacing:-0.413px;transform:scaleX(0.9007);">CRITIQUES</div>
<div class="t" id="t200" style="left:1401.25px;top:438.72px;font-size:11.8px;font-weight:700;color:#fff;letter-spacing:-0.413px;transform:scaleX(0.8661);">TOTAL DECES</div>
<div class="t" id="t201" style="left:1396.25px;top:452.58px;font-size:10.2px;font-weight:700;color:#fff;letter-spacing:-0.357px;transform:scaleX(0.9341);">en établissements</div>
<div class="t" id="t202" style="left:1401.50px;top:465.83px;font-size:10.2px;font-weight:700;color:#fff;letter-spacing:-0.357px;transform:scaleX(0.9262);">de santé depuis</div>
<div class="t" id="t203" style="left:1413.25px;top:478.33px;font-size:10.2px;font-weight:700;color:#fff;letter-spacing:-0.357px;transform:scaleX(0.9189);">mars 2020</div>
<div class="t" id="t204" style="left:1049.50px;top:798.21px;font-size:17.4px;font-weight:700;color:#fff;letter-spacing:0.468px;">OCCITANIE</div>
<div class="t" id="t205" style="left:1225.25px;top:798.95px;font-size:18px;font-weight:700;color:#fff;letter-spacing:1.366px;">1 230</div>
<div class="t" id="t206" style="left:1331.25px;top:798.95px;font-size:18px;font-weight:700;color:#fff;letter-spacing:1.232px;">300</div>
<div class="t" id="t207" style="left:1410.00px;top:798.95px;font-size:18px;font-weight:700;color:#fff;letter-spacing:1.116px;">4 813</div>
<svg style="position:absolute;left:360px;top:136px" width="360" height="44" viewBox="360 136 360 44"><path d="M367 144.6 L598.6 144.6 L596.3 171.5 L634 143.2 L709.5 143.2" fill="none" stroke="#e30613" stroke-width="3.1" stroke-linejoin="miter"/></svg>
</body></html>
